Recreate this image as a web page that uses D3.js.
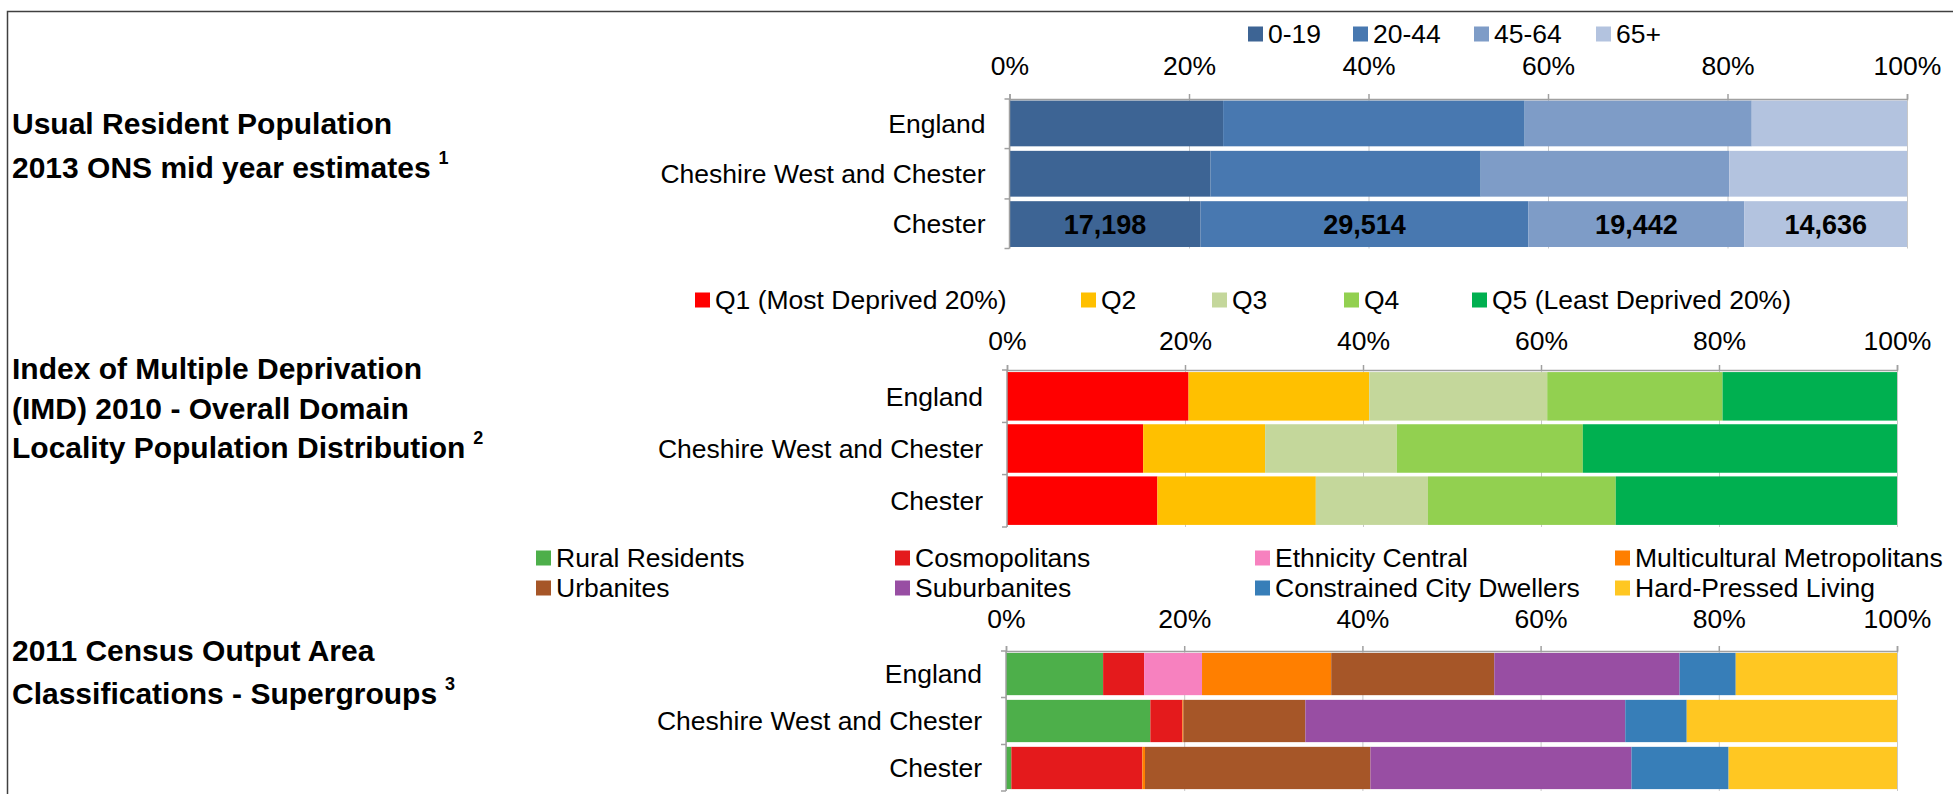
<!DOCTYPE html>
<html>
<head>
<meta charset="utf-8">
<script src="https://cdn.jsdelivr.net/npm/d3@7"></script>
<style>
  body { margin: 0; background: #fff; }
  svg text { font-family: "Liberation Sans", Arial, sans-serif; fill: #000; }
</style>
</head>
<body>
<div id="chart"></div>
<script>
//** Chester locality profile - population, deprivation, OAC */

// places shown on every panel
var places = ["England", "Cheshire West and Chester", "Chester"];

// age bands (share % for England / CWAC, head count for Chester)
var ageBands = ["0-19", "20-44", "45-64", "65+"];
var ageEngland = [23.8, 33.6, 25.3, 17.3];
var ageCWAC = [22.4, 30.1, 27.7, 19.8];
var ageChester = [17198, 29514, 19442, 14636];

// IMD 2010 quintiles (% of population)
var imdQuintiles = ["Q1 (Most Deprived 20%)", "Q2", "Q3", "Q4", "Q5 (Least Deprived 20%)"];
var imdEngland = [20.4, 20.3, 20.0, 19.7, 19.6];
var imdCWAC = [15.3, 13.7, 14.8, 20.9, 35.3];
var imdChester = [16.9, 17.8, 12.6, 21.1, 31.6];

// 2011 OAC supergroups (% of output areas)
var oacGroups = ["Rural Residents", "Cosmopolitans", "Ethnicity Central", "Multicultural Metropolitans",
    "Urbanites", "Suburbanites", "Constrained City Dwellers", "Hard-Pressed Living"];
var oacEngland = [10.9, 4.6, 6.5, 14.5, 18.3, 20.8, 6.3, 18.1];
var oacCWAC = [16.2, 3.6, 0, 0.1, 13.7, 35.9, 6.9, 23.6];
var oacChester = [0.6, 14.7, 0, 0.3, 25.3, 29.3, 10.9, 18.9];

var tickValues = [0, 0.2, 0.4, 0.6, 0.8, 1];

// colours
var ageColors = ["#3d6494", "#4878b0", "#7e9cc7", "#b3c3df"];
var imdColors = ["#ff0000", "#ffc000", "#c4d79b", "#92d050", "#00b050"];
var oacColors = ["#4daf4a", "#e41a1c", "#f781bf", "#ff7f00", "#a65628", "#984ea3", "#377eb8", "#ffc722"];

var svgWidth = 1953;
var svgHeight = 794;
var fontSize = 26.5;

var svg = d3
    .select("#chart")
    .append("svg")
    .attr("width", svgWidth)
    .attr("height", svgHeight);

// frame
svg.append("path")
    .attr("d", "M7.5,800V11.5H1960")
    .attr("fill", "none")
    .attr("stroke", "#404040")
    .attr("stroke-width", 1.5);

var panels = [
    {
        title: ["Usual Resident Population", "2013 ONS mid year estimates"],
        note: "1",
        titleY: [123, 167],
        keys: ageBands,
        rows: [ageEngland, ageCWAC, ageChester],
        colors: ageColors,
        x0: 1009.5, x1: 1907, yTop: 99, yBot: 248.5, tickY: 66,
        padIn: 0.09, padOut: 0.03,
        legendX: [1248, 1353, 1474, 1596],
        legendY: [34, 34, 34, 34],
        labelRow: 2
    },
    {
        title: ["Index of Multiple Deprivation", "(IMD) 2010 - Overall Domain", "Locality Population Distribution"],
        note: "2",
        titleY: [368, 408, 447],
        keys: imdQuintiles,
        rows: [imdEngland, imdCWAC, imdChester],
        colors: imdColors,
        x0: 1007, x1: 1897, yTop: 370, yBot: 527, tickY: 341,
        padIn: 0.07, padOut: 0.04,
        legendX: [695, 1081, 1212, 1344, 1472],
        legendY: [300, 300, 300, 300, 300]
    },
    {
        title: ["2011 Census Output Area", "Classifications - Supergroups"],
        note: "3",
        titleY: [650, 693],
        keys: oacGroups,
        rows: [oacEngland, oacCWAC, oacChester],
        colors: oacColors,
        x0: 1006, x1: 1897, yTop: 651, yBot: 791, tickY: 619,
        padIn: 0.1, padOut: 0.04,
        legendX: [536, 895, 1255, 1615, 536, 895, 1255, 1615],
        legendY: [558, 558, 558, 558, 588, 588, 588, 588]
    }
];

panels.forEach(drawPanel);

function drawPanel(p) {
    var g = svg.append("g");

    // table for the stack: one object per place
    var table = places.map(function(place, i) {
        var row = { place: place };
        p.keys.forEach(function(k, j) {
            row[k] = p.rows[i][j];
        });
        return row;
    });

    var series = d3.stack()
        .keys(p.keys)
        .offset(d3.stackOffsetExpand)(table);

    var xScale = d3.scaleLinear().domain([0, 1]).range([p.x0, p.x1]);
    var yScale = d3.scaleBand()
        .domain(places)
        .range([p.yTop, p.yBot])
        .paddingInner(p.padIn)
        .paddingOuter(p.padOut);

    // gridlines
    g.append("g")
        .attr("transform", `translate(0, ${p.yTop})`)
        .call(d3.axisTop(xScale).tickValues(tickValues).tickSize(-(p.yBot - p.yTop)).tickFormat(""))
        .call(function(ax) {
            ax.select(".domain").remove();
            ax.selectAll("line").attr("stroke", "#c8c8c8").attr("stroke-width", 1);
        });

    // bars
    g.selectAll("g.series")
        .data(series)
        .join("g")
        .attr("class", "series")
        .attr("fill", (d, i) => p.colors[i])
        .selectAll("rect")
        .data((d) => d)
        .join("rect")
        .attr("x", (d) => xScale(d[0]))
        .attr("y", (d) => yScale(d.data.place))
        .attr("width", (d) => Math.max(0, xScale(d[1]) - xScale(d[0])))
        .attr("height", yScale.bandwidth());

    // top axis with percent labels
    var xAxis = g.append("g")
        .attr("transform", `translate(0, ${p.yTop})`)
        .call(d3.axisTop(xScale).tickValues(tickValues).tickSize(5).tickFormat(d3.format(".0%")));
    xAxis.select(".domain").attr("stroke", "#a0a0a0").attr("stroke-width", 1.5);
    xAxis.selectAll("line").attr("stroke", "#a0a0a0").attr("stroke-width", 1.5);
    xAxis.selectAll("text")
        .attr("y", p.tickY - p.yTop)
        .attr("dy", "0.35em")
        .style("font-size", fontSize + "px")
        .style("font-family", "'Liberation Sans', Arial, sans-serif")
        .attr("fill", "#000");

    // category axis: line plus ticks at the band boundaries
    var step = yScale.step();
    var edges = [p.yTop].concat(places.slice(1).map((d) => yScale(d) - step * p.padIn / 2)).concat([p.yBot]);
    g.append("line")
        .attr("x1", p.x0).attr("x2", p.x0)
        .attr("y1", p.yTop).attr("y2", p.yBot)
        .attr("stroke", "#a0a0a0").attr("stroke-width", 1.5);
    g.selectAll("line.ytick")
        .data(edges)
        .join("line")
        .attr("class", "ytick")
        .attr("x1", p.x0 - 5).attr("x2", p.x0)
        .attr("y1", (d) => d).attr("y2", (d) => d)
        .attr("stroke", "#a0a0a0").attr("stroke-width", 1.5);

    g.selectAll("text.place")
        .data(places)
        .join("text")
        .attr("class", "place")
        .attr("x", p.x0 - 24)
        .attr("y", (d) => yScale(d) + yScale.bandwidth() / 2)
        .attr("dy", "0.35em")
        .attr("text-anchor", "end")
        .style("font-size", fontSize + "px")
        .text((d) => d);

    // data labels (counts) on one row
    if (p.labelRow !== undefined) {
        var place = places[p.labelRow];
        g.selectAll("text.value")
            .data(series.map((s) => s[p.labelRow]))
            .join("text")
            .attr("class", "value")
            .attr("x", (d) => xScale((d[0] + d[1]) / 2))
            .attr("y", yScale(place) + yScale.bandwidth() / 2)
            .attr("dy", "0.35em")
            .attr("text-anchor", "middle")
            .style("font-size", "27px")
            .style("font-weight", "bold")
            .text((d, i) => d3.format(",")(p.rows[p.labelRow][i]));
    }

    // legend
    var legend = g.append("g");
    p.keys.forEach(function(k, i) {
        var x = p.legendX[i];
        var y = p.legendY[i];
        legend.append("rect")
            .attr("x", x)
            .attr("y", y - 7.5)
            .attr("width", 15)
            .attr("height", 15)
            .attr("fill", p.colors[i]);
        legend.append("text")
            .attr("x", x + 20)
            .attr("y", y)
            .attr("dy", "0.35em")
            .style("font-size", fontSize + "px")
            .text(k);
    });

    // section title
    p.title.forEach(function(line, i) {
        var t = g.append("text")
            .attr("x", 12)
            .attr("y", p.titleY[i])
            .attr("dy", "0.35em")
            .style("font-size", "30px")
            .style("font-weight", "bold")
            .text(line);
        if (i === p.title.length - 1) {
            t.append("tspan")
                .attr("dx", 8)
                .attr("dy", -14)
                .style("font-size", "18px")
                .text(p.note);
        }
    });
}
</script>
</body>
</html>
